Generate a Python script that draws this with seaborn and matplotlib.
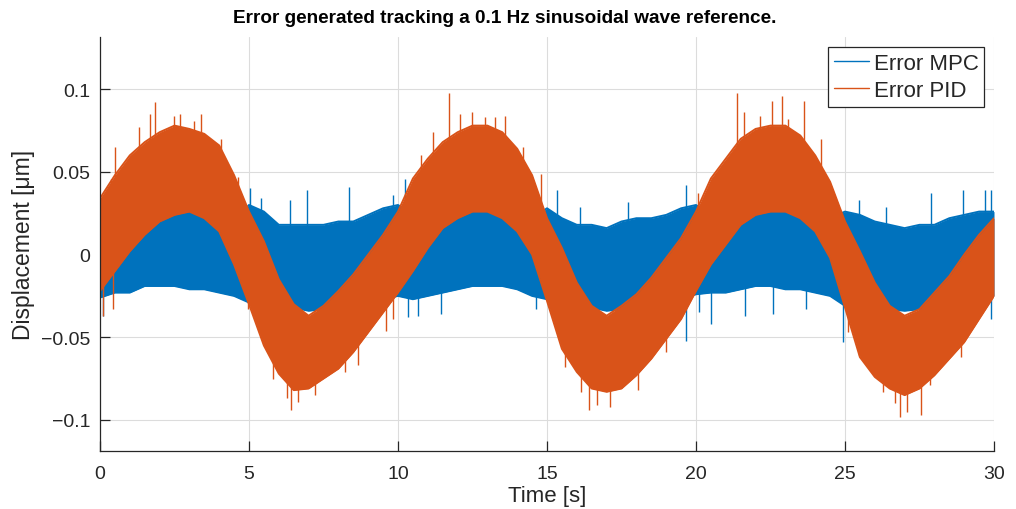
import numpy as np
import pandas as pd
import matplotlib
matplotlib.use("Agg")
import matplotlib.pyplot as plt
from matplotlib.lines import Line2D
import seaborn as sns

# ---------------- data ----------------
time_s = [i * 0.5 for i in range(61)]  # 0 .. 30 s every 0.5 s

pid_upper = [0.034, 0.048, 0.060, 0.068, 0.074, 0.078, 0.076, 0.073, 0.066, 0.048,
             0.026, 0.008, -0.015, -0.030, -0.037, -0.031, -0.022, -0.012, 0.000, 0.012,
             0.026, 0.046, 0.058, 0.068, 0.074, 0.078, 0.078, 0.074, 0.064, 0.048,
             0.022, 0.004, -0.017, -0.031, -0.037, -0.031, -0.024, -0.014, -0.002, 0.010,
             0.026, 0.046, 0.058, 0.070, 0.076, 0.078, 0.078, 0.072, 0.060, 0.044,
             0.020, 0.002, -0.017, -0.031, -0.037, -0.033, -0.023, -0.013, 0.000, 0.012,
             0.022]
pid_lower = [-0.022, -0.010, 0.002, 0.012, 0.020, 0.024, 0.026, 0.022, 0.014, -0.006,
             -0.030, -0.055, -0.072, -0.082, -0.081, -0.075, -0.069, -0.059, -0.047, -0.035,
             -0.023, -0.010, 0.004, 0.016, 0.022, 0.026, 0.026, 0.022, 0.014, 0.000,
             -0.028, -0.057, -0.071, -0.081, -0.083, -0.081, -0.073, -0.063, -0.051, -0.039,
             -0.022, -0.006, 0.006, 0.018, 0.024, 0.026, 0.026, 0.022, 0.014, -0.002,
             -0.032, -0.062, -0.074, -0.081, -0.085, -0.081, -0.073, -0.063, -0.053, -0.039,
             -0.025]
mpc_upper = [0.020, 0.016, 0.018, 0.020, 0.024, 0.027, 0.028, 0.025, 0.020, 0.020,
             0.030, 0.026, 0.018, 0.018, 0.018, 0.018, 0.020, 0.020, 0.024, 0.028,
             0.030, 0.024, 0.022, 0.024, 0.027, 0.028, 0.028, 0.026, 0.022, 0.022,
             0.028, 0.022, 0.018, 0.018, 0.016, 0.020, 0.022, 0.022, 0.024, 0.028,
             0.030, 0.024, 0.022, 0.024, 0.026, 0.028, 0.028, 0.026, 0.022, 0.022,
             0.026, 0.024, 0.020, 0.018, 0.016, 0.018, 0.018, 0.022, 0.024, 0.026,
             0.026]
mpc_lower = [-0.026, -0.023, -0.023, -0.019, -0.019, -0.019, -0.021, -0.021, -0.023, -0.025,
             -0.029, -0.028, -0.030, -0.032, -0.034, -0.033, -0.030, -0.028, -0.026, -0.027,
             -0.025, -0.027, -0.025, -0.023, -0.021, -0.019, -0.019, -0.019, -0.021, -0.025,
             -0.027, -0.028, -0.030, -0.032, -0.034, -0.033, -0.030, -0.028, -0.026, -0.027,
             -0.024, -0.023, -0.023, -0.021, -0.019, -0.019, -0.021, -0.021, -0.023, -0.025,
             -0.031, -0.030, -0.031, -0.033, -0.034, -0.033, -0.030, -0.028, -0.026, -0.027,
             -0.025]

# isolated spikes (time, tip value)
pid_spike_t = [0.11, 0.38, 0.44, 0.51, 1.30, 1.67, 1.83, 2.48, 2.67, 3.15, 3.38, 4.07, 4.63, 4.97,
               5.80, 6.29, 6.42, 6.64, 7.20, 8.21, 8.66, 9.61, 9.83,
               10.76, 11.17, 11.71, 12.07, 12.48, 12.91, 13.27, 13.60, 14.19, 14.79,
               15.61, 16.15, 16.40, 16.69, 17.10, 18.05, 19.00, 20.07,
               20.57, 21.36, 21.61, 22.14, 22.55, 22.89, 23.08, 23.62, 24.20, 25.10,
               25.46, 26.27, 26.67, 26.83, 27.09, 27.54, 27.84, 28.90]
pid_spike_v = [-0.037, 0.046, -0.033, 0.065, 0.077, 0.085, 0.092, 0.084, 0.085, 0.081, 0.085, 0.070, 0.047, -0.033,
               -0.075, -0.087, -0.094, -0.089, -0.085, -0.071, -0.067, -0.046, -0.039,
               0.060, 0.074, 0.098, 0.085, 0.086, 0.083, 0.083, 0.084, 0.065, 0.049,
               -0.068, -0.083, -0.094, -0.091, -0.092, -0.082, -0.059, 0.037,
               0.046, 0.098, 0.086, 0.084, 0.093, 0.096, 0.082, 0.093, 0.070, -0.047,
               -0.061, -0.083, -0.090, -0.098, -0.095, -0.097, -0.079, -0.062]
mpc_spike_t = [0.10, 5.02, 5.41, 6.37, 6.96, 8.35, 9.83,
               10.25, 10.34, 10.67, 11.43, 12.44, 14.64,
               15.35, 16.11, 17.72, 19.65, 19.65, 20.10,
               20.51, 21.63, 22.58, 23.68, 24.93,
               25.47, 26.39, 27.87, 28.96, 29.71, 29.91, 29.91]
mpc_spike_v = [-0.037, 0.040, 0.034, 0.033, 0.039, 0.041, 0.036,
               0.046, -0.038, -0.037, -0.036, 0.038, -0.033,
               0.039, 0.029, 0.032, 0.042, -0.052, -0.035,
               -0.042, -0.037, -0.036, -0.033, -0.053,
               0.033, 0.029, 0.037, 0.039, 0.039, 0.039, -0.039]

series_names = ["Error MPC", "Error PID"]
colors = ["#0072BD", "#D95319"]

x_ticks = [0, 5, 10, 15, 20, 25, 30]
y_ticks = [-0.1, -0.05, 0, 0.05, 0.1]
y_tick_labels = ["\u22120.1", "\u22120.05", "0", "0.05", "0.1"]

title = "Error generated tracking a 0.1 Hz sinusoidal wave reference."
x_label = "Time [s]"
y_label = "Displacement [\u03bcm]"

# ---------------- figure ----------------
sns.set_theme(style="white")
plt.rcParams["font.family"] = ["Liberation Sans", "DejaVu Sans"]

fig = plt.figure(figsize=(10.16, 5.10), dpi=100)
ax = fig.add_axes([100 / 1016, 1 - 452 / 510, 894 / 1016, 414 / 510])

t = np.array(time_s)
bands = [(mpc_lower, mpc_upper, mpc_spike_t, mpc_spike_v),
         (pid_lower, pid_upper, pid_spike_t, pid_spike_v)]

for (lo, up, st, sv), name, col in zip(bands, series_names, colors):
    lo = np.array(lo)
    up = np.array(up)
    df = pd.DataFrame({"t": np.concatenate([t, t]),
                       "v": np.concatenate([up, lo]),
                       "edge": ["upper"] * len(t) + ["lower"] * len(t)})
    ax.fill_between(t, lo, up, color=col, linewidth=0, zorder=2)
    sns.lineplot(data=df, x="t", y="v", units="edge", estimator=None,
                 color=col, linewidth=1.4, ax=ax, legend=False, zorder=2)
    center = (lo + up) / 2
    st = np.array(st)
    base = np.interp(st, t, center)
    ax.vlines(st, base, np.array(sv), color=col, linewidth=1.0, zorder=2)

ax.set_xlim(0, 30)
ax.set_ylim(-0.1188, 0.1316)
ax.set_xticks(x_ticks)
ax.set_xticklabels([str(v) for v in x_ticks])
ax.set_yticks(y_ticks)
ax.set_yticklabels(y_tick_labels)

ax.grid(True, color="#dcdcdc", linewidth=0.8, zorder=0)
ax.set_axisbelow(True)
for s in ["top", "right"]:
    ax.spines[s].set_visible(False)
for s in ["left", "bottom"]:
    ax.spines[s].set_color("#262626")
    ax.spines[s].set_linewidth(0.9)
ax.tick_params(direction="in", length=7, width=0.9, colors="#262626",
               labelsize=14, left=True, bottom=True)
ax.tick_params(axis="x", pad=10)
ax.tick_params(axis="y", pad=7)

ax.set_xlabel(x_label, fontsize=16, color="#262626", labelpad=2)
ax.set_ylabel(y_label, fontsize=16.5, color="#262626", labelpad=4)
ax.set_title(title, fontsize=13.7, fontweight="bold", color="black",
             x=0.453, pad=11)

handles = [Line2D([0], [0], color=c, lw=1.0) for c in colors]
leg = ax.legend(handles, series_names, loc="upper right", fontsize=16,
                frameon=True, fancybox=False, edgecolor="#262626",
                framealpha=1, handlelength=1.6, handletextpad=0.2,
                borderpad=0.25, labelspacing=0.3, borderaxespad=0.45)
leg.get_frame().set_linewidth(0.9)

fig.savefig("out.png", dpi=100)
